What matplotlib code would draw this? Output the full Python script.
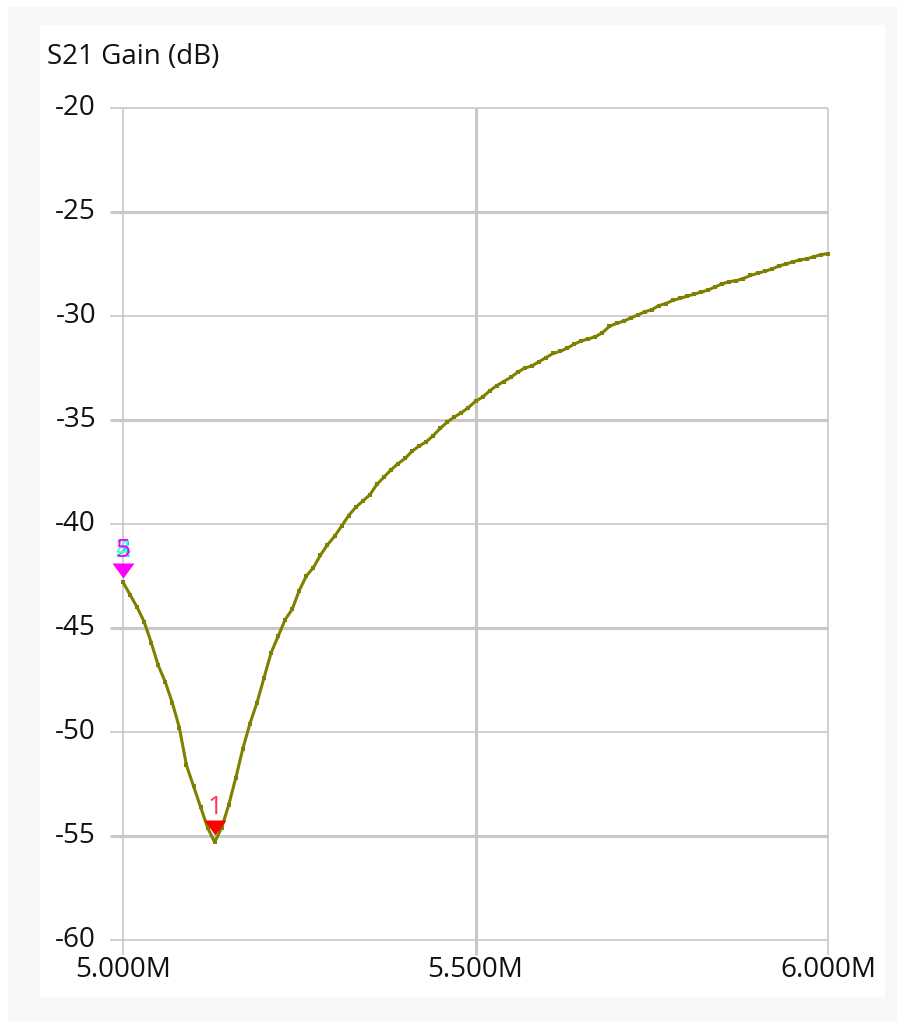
import matplotlib
matplotlib.use("Agg")
import matplotlib.pyplot as plt
from matplotlib.patches import Rectangle
from matplotlib.transforms import offset_copy, blended_transform_factory

# ---- data ----
freq_start_mhz = 5.0
freq_step_mhz = 0.01
gain_db = [
    -42.8, -43.4, -44.0, -44.7, -45.7, -46.8, -47.6, -48.6, -49.8, -51.6,
    -52.6, -53.6, -54.6, -55.3, -54.6, -53.5, -52.2, -50.8, -49.6, -48.6,
    -47.4, -46.2, -45.4, -44.6, -44.1, -43.2, -42.5, -42.1, -41.5, -41.0,
    -40.6, -40.1, -39.6, -39.2, -38.9, -38.6, -38.1, -37.75, -37.4, -37.1,
    -36.85, -36.5, -36.25, -36.05, -35.75, -35.4, -35.1, -34.85, -34.65, -34.4,
    -34.1, -33.9, -33.6, -33.35, -33.15, -32.95, -32.7, -32.5, -32.4, -32.2,
    -32.0, -31.8, -31.7, -31.55, -31.35, -31.2, -31.1, -31.0, -30.8, -30.5,
    -30.35, -30.25, -30.1, -29.95, -29.8, -29.7, -29.5, -29.4, -29.25, -29.15,
    -29.05, -28.95, -28.85, -28.75, -28.6, -28.45, -28.35, -28.3, -28.2, -28.05,
    -27.95, -27.85, -27.75, -27.6, -27.5, -27.4, -27.3, -27.25, -27.15, -27.05,
    -27.0,
]
freqs_mhz = [freq_start_mhz + i * freq_step_mhz for i in range(len(gain_db))]

y_ticks = [-20, -25, -30, -35, -40, -45, -50, -55, -60]
y_tick_labels = ["-20", "-25", "-30", "-35", "-40", "-45", "-50", "-55", "-60"]
x_ticks = [5.0, 5.5, 6.0]
x_tick_labels = ["5.000M", "5.500M", "6.000M"]
title = "S21 Gain (dB)"

marker1_idx = 13
marker5_idx = 0

# ---- figure ----
W, H = 897, 1021
fig = plt.figure(figsize=(W / 100, H / 100), dpi=100, facecolor="white")

def fig_rect(x0, y0, x1, y1, color):
    fig.add_artist(Rectangle((x0 / W, 1 - y1 / H), (x1 - x0) / W, (y1 - y0) / H,
                             transform=fig.transFigure, facecolor=color,
                             edgecolor="none", zorder=-10))

fig_rect(8, 7, 897, 1021, "#f7f7f7")
fig_rect(40, 25, 885, 997, "white")

ax_l, ax_r, ax_t, ax_b = 123, 828, 108, 940
ax = fig.add_axes([ax_l / W, 1 - ax_b / H, (ax_r - ax_l) / W, (ax_b - ax_t) / H])
ax.set_facecolor("none")
ax.set_xlim(5.0, 6.0)
ax.set_ylim(-60, -20)
for s in ax.spines.values():
    s.set_visible(False)
ax.set_xticks([])
ax.set_yticks([])

FONT = "Open Sans"
FS = 20
TXT = "#111111"
grid_color = "#c8c8c8"
left_ext = (110 - ax_l) / (ax_r - ax_l)
bot_ext = -(955 - ax_b) / (ax_b - ax_t)
ylab_tr = blended_transform_factory(fig.transFigure, ax.transData)
xlab_tr = blended_transform_factory(ax.transData, fig.transFigure)
for i, yv in enumerate(y_ticks):
    lw = 2.2 if (yv % 10 != 0) else 1.2
    ax.plot([left_ext, 1], [yv, yv], color=grid_color, lw=lw,
            transform=ax.get_yaxis_transform(), clip_on=False, zorder=1,
            solid_capstyle="butt")
    ax.text(96 / W, yv, y_tick_labels[i], transform=ylab_tr,
            ha="right", va="center", fontsize=FS, color=TXT, family=FONT)
for i, xv in enumerate(x_ticks):
    lw = 2.2 if i == 1 else 1.2
    ax.plot([xv, xv], [bot_ext, 1], color=grid_color, lw=lw,
            transform=ax.get_xaxis_transform(), clip_on=False, zorder=1,
            solid_capstyle="butt")
    ax.text(xv, 1 - 970 / H, x_tick_labels[i], transform=xlab_tr,
            ha="center", va="center", fontsize=FS, color=TXT, family=FONT)

fig.text(47 / W, 1 - 57 / H, title, ha="left", va="center", fontsize=FS,
         color=TXT, family=FONT)

# curve
ax.plot(freqs_mhz, gain_db, color="#808000", lw=2.2, marker="s", ms=3.5,
        markeredgewidth=0, zorder=3, clip_on=False)

# markers
tri = [(-11, 15), (11, 15), (0, 0)]
def marker(idx, color, label, label_color, tip_gap_px, extra_labels=()):
    fx, gy = freqs_mhz[idx], gain_db[idx]
    tr = offset_copy(ax.transData, fig=fig, x=0, y=tip_gap_px * 0.72, units="points")
    ax.plot([fx], [gy], marker=tri, ms=21.6, color=color, markeredgewidth=0,
            transform=tr, clip_on=False, zorder=5)
    tr2 = offset_copy(ax.transData, fig=fig, x=0, y=(tip_gap_px + 28) * 0.72, units="points")
    for lab, col in extra_labels:
        ax.text(fx, gy, lab, color=col, fontsize=19, ha="center", va="center",
                transform=tr2, family=FONT, zorder=6)
    ax.text(fx, gy, label, color=label_color, fontsize=19, ha="center", va="center",
            transform=tr2, family=FONT, zorder=7)

marker(marker1_idx, "#ff0000", "1", "#ff3355", 7)
marker(marker5_idx, "#ff00ff", "5", "#ff00ff", 4,
       extra_labels=[("2", "#00e0e0"), ("3", "#00c8ff"), ("4", "#40ffd0")])

fig.savefig("out.png", dpi=100, facecolor="white")
